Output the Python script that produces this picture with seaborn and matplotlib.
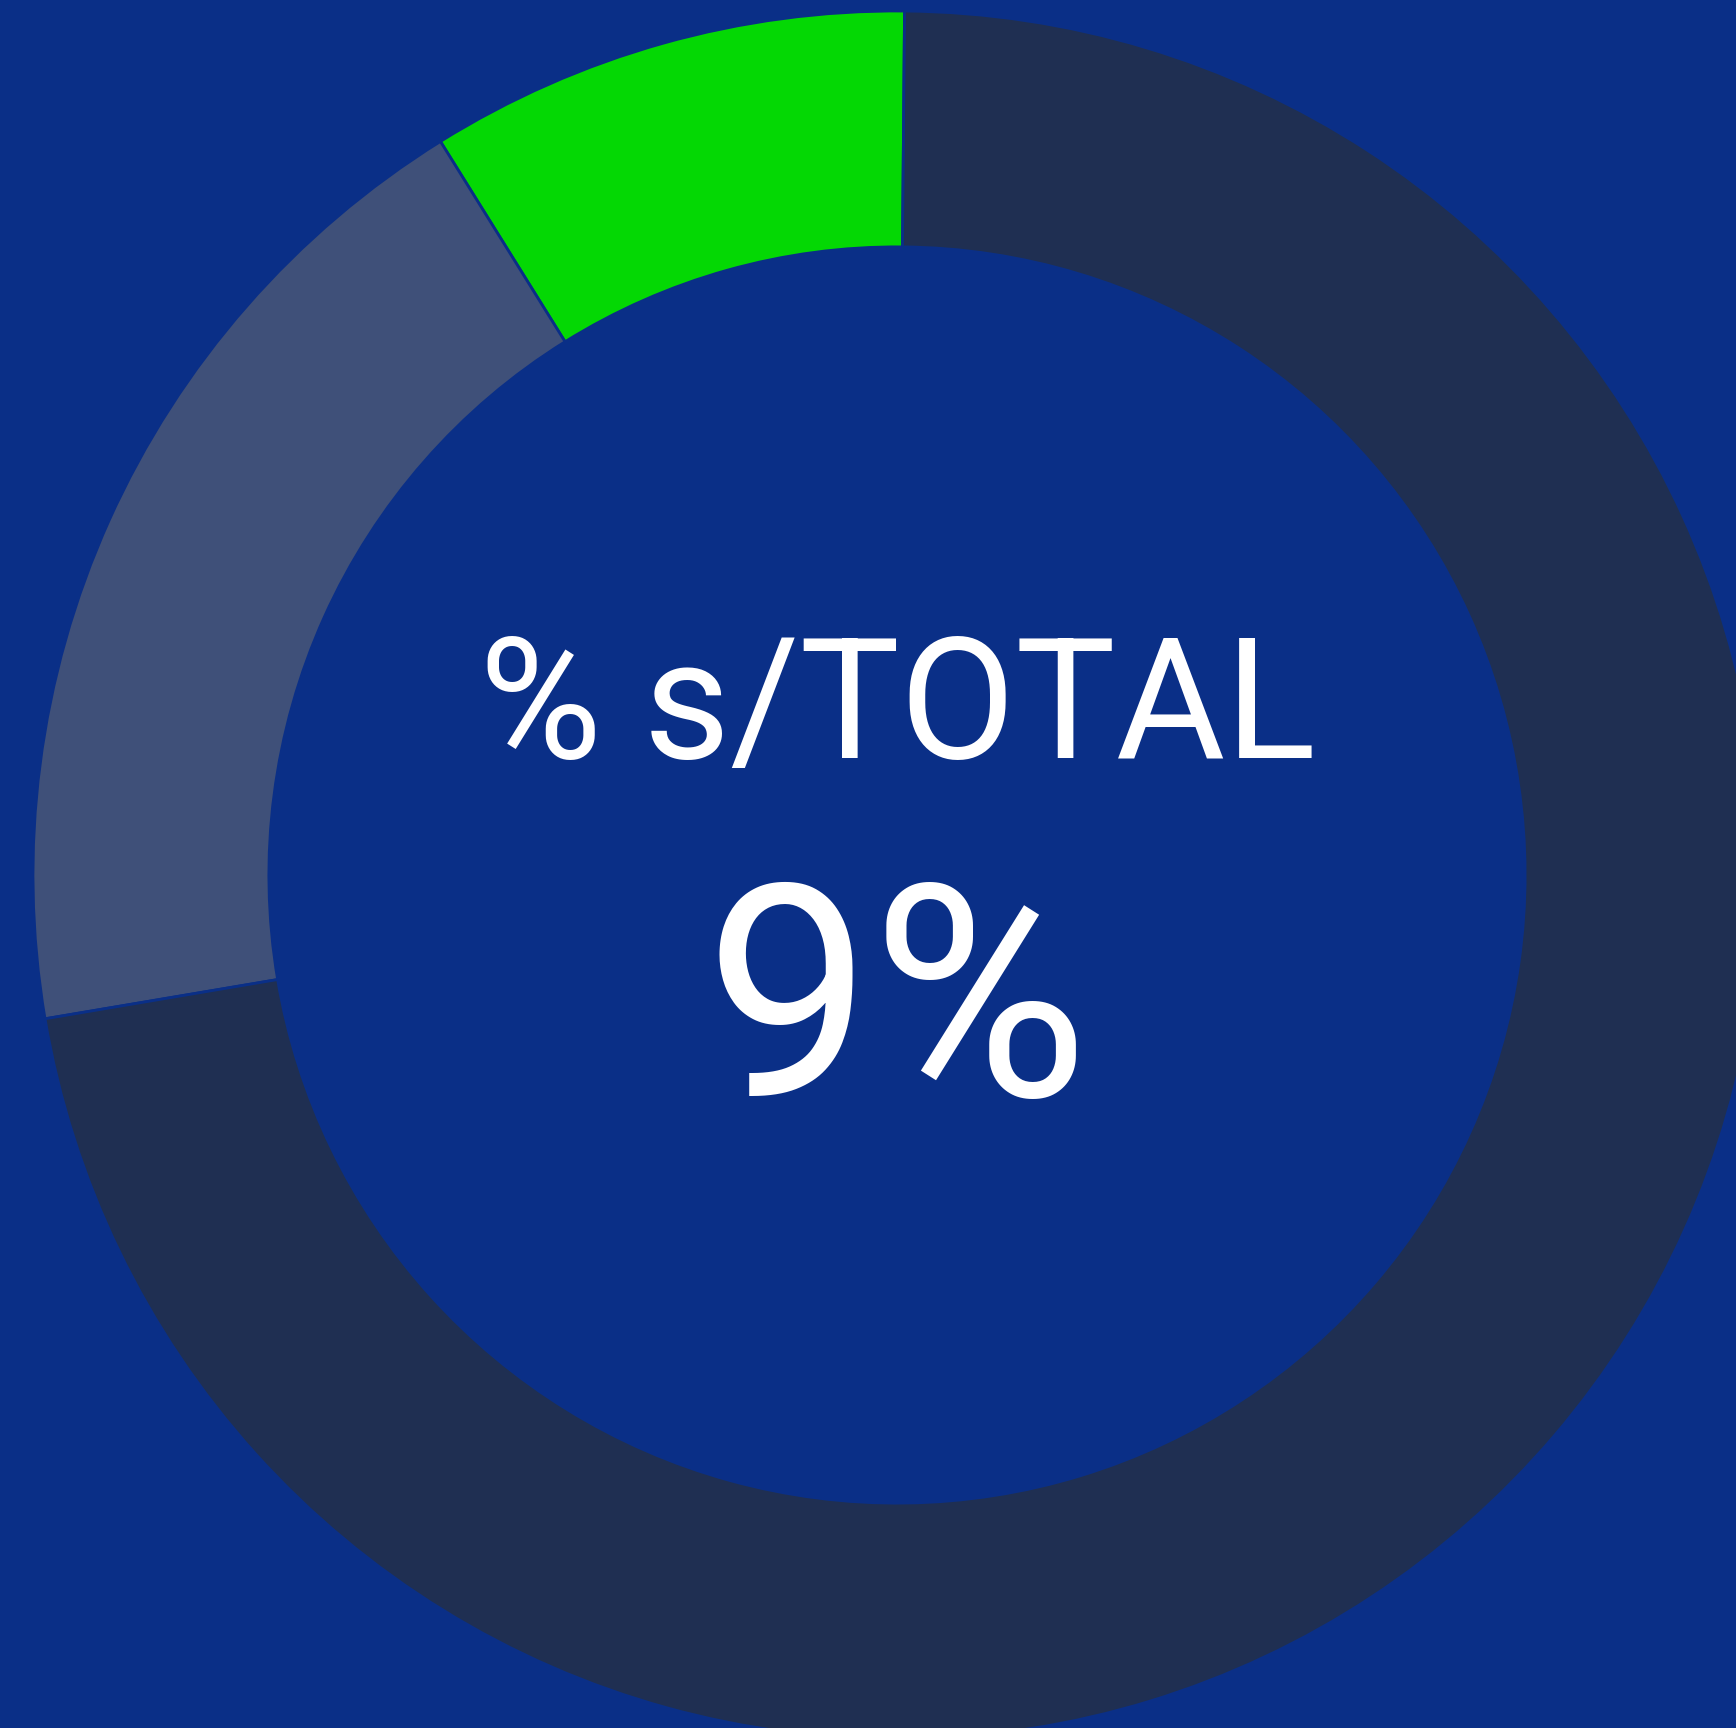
import matplotlib.pyplot as plt
import seaborn as sns

segmentos = ["% s/TOTAL", "Resto grupo", "Otros"]
valores = [9.0, 18.8, 72.2]
cores = ["#04d804", "#3f5079", "#1f2f52"]
titulo = "% s/TOTAL"
destaque = "9%"

fundo = "#0a2f87"

sns.set_theme(style="white")
plt.rcParams["font.family"] = ["Roboto", "DejaVu Sans"]

fig = plt.figure(figsize=(17.36, 17.28), dpi=100, facecolor=fundo)
ax = fig.add_axes([0, 0, 1, 1])
ax.set_facecolor(fundo)

ax.pie(
    valores,
    colors=cores,
    startangle=89.5,
    counterclock=True,
    radius=1.0,
    wedgeprops={"width": 0.273, "edgecolor": fundo, "linewidth": 2},
)

ax.text(0, 0.135, titulo, color="white", fontsize=121, fontweight="normal",
        ha="center", va="baseline")
ax.text(0, -0.256, destaque, color="white", fontsize=214, fontweight="normal",
        ha="center", va="baseline")

ax.set_xlim(-897 / 864, 839 / 864)
ax.set_ylim(-853 / 864, 875 / 864)
ax.set_aspect("equal")
ax.axis("off")

fig.savefig("out.png", dpi=100, facecolor=fundo)
